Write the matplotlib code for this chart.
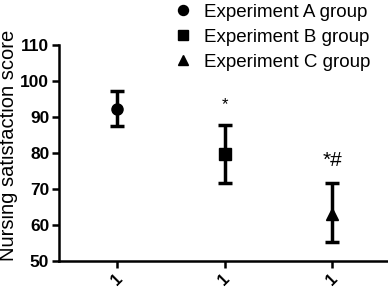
import matplotlib
matplotlib.use("Agg")
import matplotlib.pyplot as plt

groups = ["Experiment A group", "Experiment B group", "Experiment C group"]
means = [92.3, 79.7, 63.0]
lower = [87.4, 71.8, 55.3]
upper = [97.2, 87.9, 71.8]
markers = ["o", "s", "^"]
tick_labels = ["1", "1", "1"]
marks = ["", "*", "*#"]

plt.rcParams["font.family"] = ["Liberation Sans", "DejaVu Sans"]

fig = plt.figure(figsize=(3.88, 2.92), dpi=100)
ax = fig.add_axes([0.152, 0.106, 0.848, 0.74])

x = list(range(len(groups)))
handles = []
for i in x:
    err = [[means[i] - lower[i]], [upper[i] - means[i]]]
    ax.errorbar([i], [means[i]], yerr=err, fmt="none", ecolor="black",
                elinewidth=2.5, capsize=5, capthick=2.5)
    h, = ax.plot([i], [means[i]], marker=markers[i], color="black",
                 markersize=8, linestyle="none", label=groups[i])
    handles.append(h)
    if marks[i]:
        ax.text(i, upper[i] + 3.5, marks[i], ha="center", va="bottom",
                fontsize=15 if marks[i] == "*#" else 12, color="black")

ax.set_xlim(-0.54, 2.52)
ax.set_ylim(50, 110)
ax.set_yticks(range(50, 111, 10))
ax.set_xticks(x)
ax.set_xticklabels(tick_labels, rotation=45, ha="center", fontsize=12,
                   fontweight="bold")
ax.set_ylabel("Nursing satisfaction score", fontsize=14.5)
ax.yaxis.set_label_coords(-0.125, 0.535)
for lab in ax.get_yticklabels():
    lab.set_fontweight("bold")
    lab.set_fontsize(12.5)

for s in ["top", "right"]:
    ax.spines[s].set_visible(False)
for s in ["left", "bottom"]:
    ax.spines[s].set_linewidth(1.8)
ax.tick_params(width=1.8, length=5, pad=2)

fig.legend(handles=handles, loc="upper left", bbox_to_anchor=(0.40, 1.045),
           frameon=False, fontsize=13.5, handletextpad=0.5, labelspacing=0.42,
           handlelength=1.2, markerscale=0.9)

fig.savefig("out.png", dpi=100)
